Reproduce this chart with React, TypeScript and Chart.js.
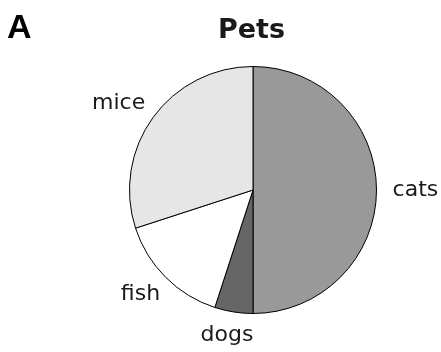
import React, { useEffect, useRef } from "react";
import { Chart, registerables } from "chart.js";

Chart.register(...registerables);

const categories = ["cats", "dogs", "fish", "mice"];
const values = [50, 5, 15, 30];
const colors = ["#999999", "#666666", "#ffffff", "#e6e6e6"];
const titleText = "Pets";
const panelLabel = "A";

const labelPlugin = {
  id: "outerLabels",
  afterDraw(chart: any) {
    const ctx = chart.ctx;
    const meta = chart.getDatasetMeta(0);
    ctx.save();
    ctx.fillStyle = "#1a1a1a";
    ctx.font = "22px 'DejaVu Sans'";
    ctx.textBaseline = "middle";
    ctx.textAlign = "center";
    meta.data.forEach((arc: any, i: number) => {
      const mid = (arc.startAngle + arc.endAngle) / 2;
      const R = arc.outerRadius * 1.13;
      const dx = Math.cos(mid);
      const dy = Math.sin(mid);
      const w = ctx.measureText(categories[i]).width;
      const h = 16;
      const x = arc.x + R * dx + (dx * w) / 2;
      const y = arc.y + R * dy + (dy * h) / 2;
      ctx.fillText(categories[i], x, y);
    });
    ctx.fillStyle = "#000000";
    ctx.font = "bold 34px 'Liberation Sans'";
    ctx.textAlign = "left";
    ctx.textBaseline = "alphabetic";
    ctx.fillText(panelLabel, 7, 38);
    ctx.fillStyle = "#1a1a1a";
    ctx.font = "bold 27px 'DejaVu Sans'";
    ctx.textAlign = "center";
    ctx.fillText(titleText, 251.5, 38);
    ctx.restore();
  },
};

export default function App() {
  const ref = useRef<HTMLCanvasElement>(null);
  useEffect(() => {
    document.body.style.margin = "0";
    const chart = new Chart(ref.current!, {
      type: "pie",
      data: {
        labels: categories,
        datasets: [
          {
            data: values,
            backgroundColor: colors,
            borderColor: "#000000",
            borderWidth: 1,
          },
        ],
      },
      options: {
        responsive: false,
        animation: false,
        layout: { padding: { left: 129, right: 64, top: 66, bottom: 38 } },
        plugins: {
          legend: { display: false },
          tooltip: { enabled: false },
          title: { display: false },
        },
      },
      plugins: [labelPlugin],
    });
    return () => chart.destroy();
  }, []);
  return (
    <div style={{ width: 441, height: 352, background: "#ffffff" }}>
      <canvas ref={ref} width={441} height={352} />
    </div>
  );
}
